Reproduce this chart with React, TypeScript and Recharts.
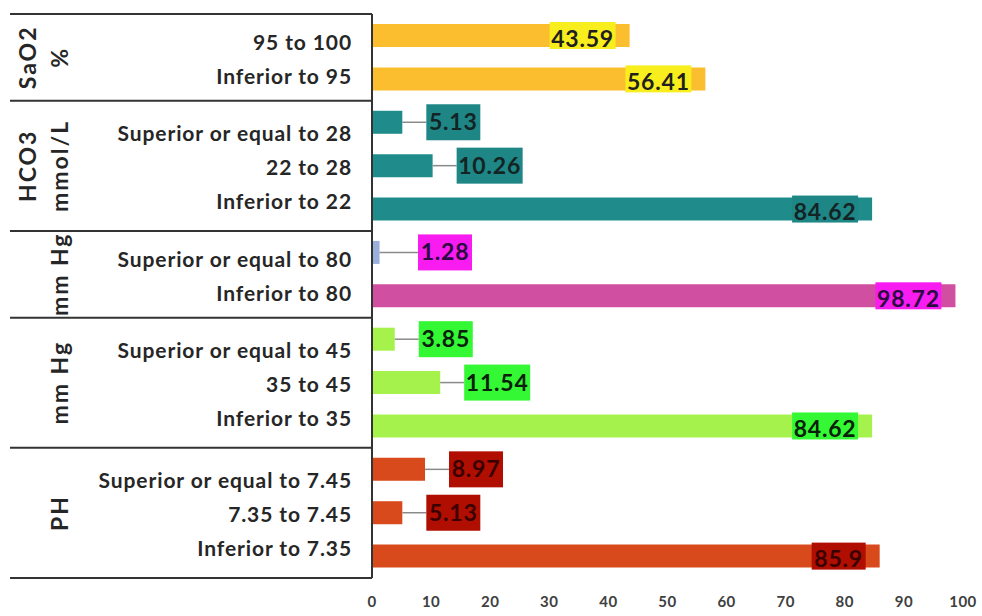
import { BarChart, Bar, XAxis, YAxis, Cell, LabelList } from 'recharts';

// rows, top to bottom
const categories = [
  '95 to 100',
  'Inferior to 95',
  'Superior or equal to 28',
  '22 to 28',
  'Inferior to 22',
  'Superior or equal to 80',
  'Inferior to 80',
  'Superior or equal to 45',
  '35 to 45',
  'Inferior to 35',
  'Superior or equal to 7.45',
  '7.35 to 7.45',
  'Inferior to 7.35',
];
const percentages = [43.59, 56.41, 5.13, 10.26, 84.62, 1.28, 98.72, 3.85, 11.54, 84.62, 8.97, 5.13, 85.9];
const groupOf = [0, 0, 1, 1, 1, 2, 2, 3, 3, 3, 4, 4, 4];
const groupTitles = [
  ['SaO2', '%'],
  ['HCO3', 'mmol/L'],
  ['', 'mm Hg'],
  ['', 'mm Hg'],
  ['', 'PH'],
];
const xTicks = [0, 10, 20, 30, 40, 50, 60, 70, 80, 90, 100];

const barColors = [
  '#FBBE2E', '#FBBE2E',
  '#1F8B8B', '#1F8B8B', '#1F8B8B',
  '#9AB0DA', '#D14FA0',
  '#A6F24C', '#A6F24C', '#A6F24C',
  '#D8491B', '#D8491B', '#D8491B',
];
const labelFills = ['#F8EE1E', '#1F8686', '#F81CF0', '#33F833', '#B00E00'];
const labelInk = ['#1f1f1f', '#132424', '#2a0a40', '#0a200a', '#3a0000'];

const W = 982;
const H = 616;
const MARGIN = { top: 14, right: 19, bottom: 8, left: 0 };
const Y_AXIS_W = 372;
const X_AXIS_H = 30;
const AXIS_X = MARGIN.left + Y_AXIS_W;
const BAND = (H - MARGIN.top - MARGIN.bottom - X_AXIS_H) / categories.length;
const FONT = 'Lato, "Open Sans", sans-serif';

const data = categories.map((name, i) => ({ name, value: percentages[i] }));

function GroupTitle({ x, y, text }: { x: number; y: number; text: string }) {
  return (
    <text
      transform={`translate(${x}, ${y}) rotate(-90)`}
      textAnchor="middle"
      dominantBaseline="central"
      fontFamily={FONT}
      fontWeight={700}
      fontSize={23}
      letterSpacing={2}
      fill="#262626"
    >
      {text}
    </text>
  );
}

function CategoryTick(props: any) {
  const { x, y, payload } = props;
  const i = payload.index ?? props.index;
  const g = groupOf[i];
  const first = groupOf.indexOf(g);
  const count = groupOf.filter((v) => v === g).length;
  const groupTop = y - (i - first) * BAND - BAND / 2;
  const groupMid = groupTop + (count * BAND) / 2;
  const labelY = groupMid + (y - groupMid) * 0.78 + 2;
  const [t1, t2] = groupTitles[g];
  return (
    <g>
      {i === first && (
        <line x1={10} x2={AXIS_X} y1={groupTop} y2={groupTop} stroke="#333" strokeWidth={2} />
      )}
      {i === categories.length - 1 && (
        <line x1={10} x2={AXIS_X} y1={groupTop + count * BAND} y2={groupTop + count * BAND} stroke="#333" strokeWidth={2} />
      )}
      {i === first && t1 && <GroupTitle x={27} y={groupMid} text={t1} />}
      {i === first && t2 && <GroupTitle x={59} y={groupMid} text={t2} />}
      <text
        x={x}
        y={labelY}
        dy="0.35em"
        textAnchor="end"
        fontFamily={FONT}
        fontWeight={700}
        fontSize={21}
        letterSpacing={0.9}
        fill="#262626"
      >
        {payload.value}
      </text>
    </g>
  );
}

function ValueLabel(props: any) {
  const { x, y, width, height, value, index } = props;
  const g = groupOf[index];
  const txt = String(value);
  const tw = txt.length * 12 + 6;
  const end = x + width;
  const cy = y + height / 2;
  if (value < 15) {
    const bx = Math.max(end + 24, AXIS_X + 46);
    return (
      <g>
        <line x1={end} y1={cy} x2={bx} y2={cy} stroke="#8a8a8a" strokeWidth={1.5} />
        <rect x={bx} y={cy - 18} width={tw} height={36} fill={labelFills[g]} />
        <text
          x={bx + tw / 2}
          y={cy}
          dy="0.35em"
          textAnchor="middle"
          fontFamily={FONT}
          fontWeight={700}
          fontSize={23}
          letterSpacing={0.8}
          fill={labelInk[g]}
        >
          {txt}
        </text>
      </g>
    );
  }
  const bx = end - 14 - tw;
  return (
    <g>
      <rect x={bx} y={y - 2} width={tw} height={height + 4} fill={labelFills[g]} />
      <text
        x={bx + tw / 2}
        y={cy + 3}
        dy="0.35em"
        textAnchor="middle"
        fontFamily={FONT}
        fontWeight={700}
        fontSize={23}
        letterSpacing={0.8}
        fill={labelInk[g]}
      >
        {txt}
      </text>
    </g>
  );
}

export default function App() {
  return (
    <div style={{ width: W, height: H, background: '#fff', fontFamily: FONT }}>
      <style>{'body{margin:0}'}</style>
      <BarChart width={W} height={H} data={data} layout="vertical" margin={MARGIN}>
        <XAxis
          type="number"
          domain={[0, 100]}
          ticks={xTicks}
          axisLine={false}
          tickLine={false}
          height={X_AXIS_H}
          tickMargin={12}
          tick={{ fontSize: 15, fontWeight: 700, fill: '#404040', fontFamily: FONT, letterSpacing: 0.5 }}
        />
        <YAxis
          type="category"
          dataKey="name"
          width={Y_AXIS_W}
          axisLine={{ stroke: '#333', strokeWidth: 2 }}
          tickLine={false}
          tickMargin={14}
          interval={0}
          tick={<CategoryTick />}
        />
        <Bar dataKey="value" barSize={23} isAnimationActive={false}>
          {data.map((d, i) => (
            <Cell key={d.name + i} fill={barColors[i]} />
          ))}
          <LabelList dataKey="value" content={<ValueLabel />} />
        </Bar>
      </BarChart>
    </div>
  );
}
